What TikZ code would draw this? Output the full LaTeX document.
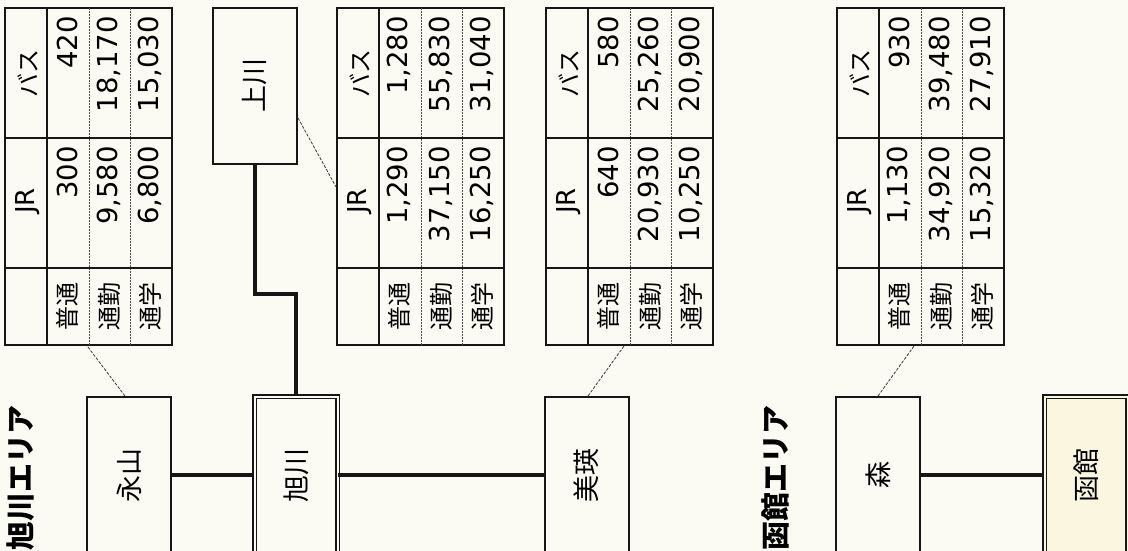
\documentclass[tikz,border=0pt]{standalone}
\usepackage{fontspec}
\usepackage{graphicx}
\newfontfamily\jp{Noto Sans CJK JP}
\newfontfamily\numf{DejaVu Sans}
\usetikzlibrary{calc}
\definecolor{paper}{HTML}{FCFBF3}
\definecolor{ink}{HTML}{161616}
\definecolor{hubfill}{HTML}{FAF6E0}
\definecolor{dotgray}{HTML}{505050}
\tikzset{
  stbox/.style={draw=ink, line width=2pt, minimum width=84pt, minimum height=156pt,
    inner sep=0pt, fill=paper, font=\jp\fontsize{27}{27}\selectfont},
  hubbox/.style={draw=ink, line width=1.5pt, double=#1, double distance=2pt,
    minimum width=83pt, minimum height=157pt, inner sep=0pt, fill=#1,
    font=\jp\fontsize{27}{27}\selectfont},
  tbl/.style={draw=ink, line width=1.8pt, minimum width=167pt, minimum height=337pt, inner sep=0pt},
  tline/.style={draw=ink, line width=1.8pt},
  dline/.style={draw=dotgray, line width=1pt, dash pattern=on 1pt off 0.5pt},
  hd/.style={rotate=90, inner sep=0pt},
  rl/.style={rotate=90, inner sep=0pt, font=\jp\fontsize{24}{24}\selectfont},
  nm/.style={rotate=90, anchor=east, inner sep=0pt, font=\numf\fontsize{27.5}{27.5}\selectfont},
  leader/.style={draw=ink!85, line width=0.8pt, dash pattern=on 3pt off 1.5pt},
  link/.style={draw=ink, line width=3.2pt},
  areatitle/.style={rotate=90, anchor=east, inner sep=0pt, font=\jp\bfseries\fontsize{29}{29}\selectfont}
}
\newcommand\faretable[8]{%
  \begin{scope}[shift={(#2,0)}]
    \node[tbl] (#1) at (83.5,176.5) {};
    \draw[dline] (84,8) -- (84,345) (125,8) -- (125,345);
    \draw[tline] (42,8) -- (42,345);
    \draw[tline] (0,138) -- (167,138) (0,268) -- (167,268);
    \node[hd, font=\numf\fontsize{26}{26}\selectfont] (#1-jr) at (23,201) {JR};
    \node[hd, font=\jp\fontsize{24}{24}\selectfont] (#1-bus) at (23,73) {バス};
    \node[rl] (#1-r1) at (62,306.5) {普通};
    \node[rl] (#1-r2) at (104,306.5) {通勤};
    \node[rl] (#1-r3) at (145,306.5) {通学};
    \node[nm] (#1-a1) at (62,146) {#3};
    \node[nm] (#1-a2) at (103.5,146) {#4};
    \node[nm] (#1-a3) at (145,146) {#5};
    \node[nm] (#1-b1) at (62,16) {#6};
    \node[nm] (#1-b2) at (103.5,16) {#7};
    \node[nm] (#1-b3) at (145,16) {#8};
  \end{scope}}
\begin{document}
\begin{tikzpicture}[x=1pt, y=-1pt]
  \useasboundingbox (0,0) rectangle (1128,551);
  \clip (0,0) rectangle (1128,551);
  \fill[paper] (0,0) rectangle (1128,551);

  % area titles
  \node[areatitle] (title1) at (21,405) {旭川エリア};
  \node[areatitle] (title2) at (775,405) {函館エリア};

  % tables
  \faretable{t1}{5}{300}{9,580}{6,800}{420}{18,170}{15,030}
  \faretable{t2}{337}{1,290}{37,150}{16,250}{1,280}{55,830}{31,040}
  \faretable{t3}{546}{640}{20,930}{10,250}{580}{25,260}{20,900}
  \faretable{t4}{837}{1,130}{34,920}{15,320}{930}{39,480}{27,910}

  % station boxes
  \node[stbox] (kamikawa) at (255,86) {\rotatebox{90}{上川}};
  \node[stbox] (nagayama) at (129,475) {\rotatebox{90}{永山}};
  \node[hubbox=paper] (asahikawa) at (296,475) {\rotatebox{90}{旭川}};
  \node[stbox] (biei) at (586.5,475) {\rotatebox{90}{美瑛}};
  \node[stbox] (mori) at (878,475) {\rotatebox{90}{森}};
  \node[hubbox=hubfill] (hakodate) at (1086,475) {\rotatebox{90}{函館}};

  % line connections
  \draw[link] (kamikawa.south) -- ++(0,129) -| (asahikawa.north);
  \draw[link] (nagayama.east) -- (asahikawa.west);
  \draw[link] (asahikawa.east) -- (biei.west);
  \draw[link] (mori.east) -- (hakodate.west);

  % leaders to tables
  \draw[leader] ([xshift=-4pt]nagayama.north) -- ([xshift=83pt]t1.south west);
  \draw[leader] ([yshift=-32pt]kamikawa.east) -- ([yshift=-10.5pt]t2.west);
  \draw[leader] ([xshift=1.5pt]biei.north) -- ([xshift=79pt]t3.south west);
  \draw[leader] (mori.north) -- ([xshift=78pt]t4.south west);
\end{tikzpicture}
\end{document}
